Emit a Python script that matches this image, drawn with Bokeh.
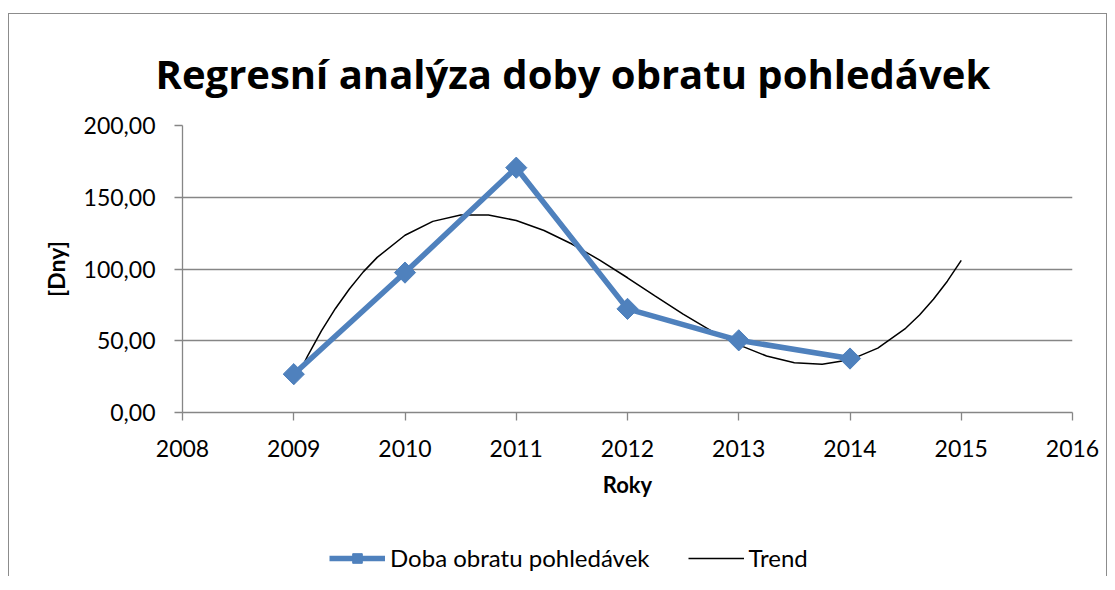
from bokeh.plotting import figure
from bokeh.layouts import column
from bokeh.models import FixedTicker, Legend, LegendItem, Range1d
from bokeh.embed import file_html
from bokeh.resources import INLINE

# ---- data ----
years = [2009, 2010, 2011, 2012, 2013, 2014]
doba_obratu = [26.7, 97.5, 170.6, 72.2, 50.3, 37.6]

trend_years = [2009.0, 2009.125, 2009.25, 2009.375, 2009.5, 2009.625, 2009.75,
               2010.0, 2010.25, 2010.5, 2010.75, 2011.0, 2011.25, 2011.5, 2011.75,
               2012.0, 2012.25, 2012.5, 2012.75, 2013.0, 2013.25, 2013.5, 2013.75,
               2014.0, 2014.25, 2014.5, 2014.625, 2014.75, 2014.875, 2015.0]
trend_values = [20.0, 39.5, 57.0, 72.5, 86.1, 98.0, 108.1,
                123.5, 133.2, 137.6, 137.6, 133.8, 126.8, 117.4, 106.2,
                93.9, 81.1, 68.6, 57.1, 47.1, 39.4, 34.7, 33.6,
                36.7, 44.9, 58.7, 68.0, 78.9, 91.5, 106.0]

x_ticks = [2008, 2009, 2010, 2011, 2012, 2013, 2014, 2015, 2016]
x_tick_labels = ["2008", "2009", "2010", "2011", "2012", "2013", "2014", "2015", "2016"]
y_ticks = [0, 50, 100, 150, 200]
y_tick_labels = ["0,00", "50,00", "100,00", "150,00", "200,00"]

title_text = "Regresní analýza doby obratu pohledávek"
x_label = "Roky"
y_label = "[Dny]"
series_label = "Doba obratu pohledávek"
trend_label = "Trend"

# ---- style ----
FONT = "Lato"
BLUE = "#4F81BD"
GRAY = "#868686"

p = figure(frame_width=890, frame_height=287, output_backend="svg", toolbar_location=None,
           x_range=Range1d(2008, 2016), y_range=Range1d(0, 200),
           min_border_left=173, min_border_right=34, min_border_top=111,
           min_border_bottom=100)
p.outline_line_color = None
p.background_fill_color = "white"
p.border_fill_color = "white"

p.title.text = title_text
p.title.align = "left"
p.title.offset = -27
p.title.text_font = "Open Sans"
p.title.text_font_style = "bold"
p.title.text_font_size = "40px"
p.title.text_color = "black"
p.title.standoff = 50

# main axes
xa = p.xaxis[0]
ya = p.yaxis[0]
xa.ticker = FixedTicker(ticks=x_ticks)
xa.major_label_overrides = dict(zip(x_ticks, x_tick_labels))
ya.ticker = FixedTicker(ticks=y_ticks)
ya.major_label_overrides = dict(zip(y_ticks, y_tick_labels))
for ax in (xa, ya):
    ax.axis_line_color = GRAY
    ax.axis_line_width = 1.3
    ax.major_tick_line_color = GRAY
    ax.major_tick_line_width = 1.3
    ax.major_tick_out = 8
    ax.major_tick_in = 0
    ax.minor_tick_line_color = None
    ax.major_label_text_font = FONT
    ax.major_label_text_font_size = "23px"
    ax.major_label_text_color = "black"
    ax.axis_label_text_font = FONT
    ax.axis_label_text_font_style = "bold"
    ax.axis_label_text_color = "black"
xa.axis_label = x_label
ya.axis_label = y_label
xa.axis_label_text_font_size = "22px"
ya.axis_label_text_font_size = "23px"
xa.major_label_standoff = 19
xa.axis_label_standoff = 11
ya.major_label_standoff = 19
ya.axis_label_standoff = 11

p.xgrid.grid_line_color = None
p.ygrid.grid_line_color = GRAY
p.ygrid.grid_line_width = 1.3

# series
p.line(trend_years, trend_values, line_color="black", line_width=1.5)
p.line(years, doba_obratu, line_color=BLUE, line_width=5.5, line_join="round")
p.scatter(years, doba_obratu, marker="square", angle=0.785398, size=15,
          fill_color=BLUE, line_color=BLUE)

# legend strip: same series, kept outside this strip's visible range so only keys show
lg = figure(width=1097, height=64, output_backend="svg", toolbar_location=None,
            x_range=Range1d(0, 1), y_range=Range1d(0, 1), min_border=0)
lg.outline_line_color = None
lg.axis.visible = False
lg.grid.visible = False
k_line = lg.line(years, doba_obratu, line_color=BLUE, line_width=5.5)
k_mark = lg.scatter(years, doba_obratu, marker="square", angle=0.785398, size=15,
                    fill_color=BLUE, line_color=BLUE)
k_trend = lg.line(trend_years, trend_values, line_color="black", line_width=1.5)
legend = Legend(items=[LegendItem(label=series_label, renderers=[k_line, k_mark]),
                       LegendItem(label=trend_label, renderers=[k_trend])],
                orientation="horizontal", location=(147, 4))
legend.border_line_color = None
legend.background_fill_alpha = 0
legend.label_text_font = FONT
legend.label_text_font_size = "24px"
legend.label_text_color = "black"
legend.glyph_width = 56
legend.glyph_height = 24
legend.label_height = 24
legend.spacing = 38
legend.label_standoff = 5
legend.padding = 0
legend.margin = 0
lg.add_layout(legend)

layout = column(p, lg, spacing=0)
layout.styles = {"margin-left": "8px", "margin-top": "13px",
                 "border-left": "1px solid #8c8c8c", "border-top": "1px solid #8c8c8c",
                 "border-right": "1px solid #8c8c8c"}

open("out.html", "w").write(file_html(layout, INLINE))
